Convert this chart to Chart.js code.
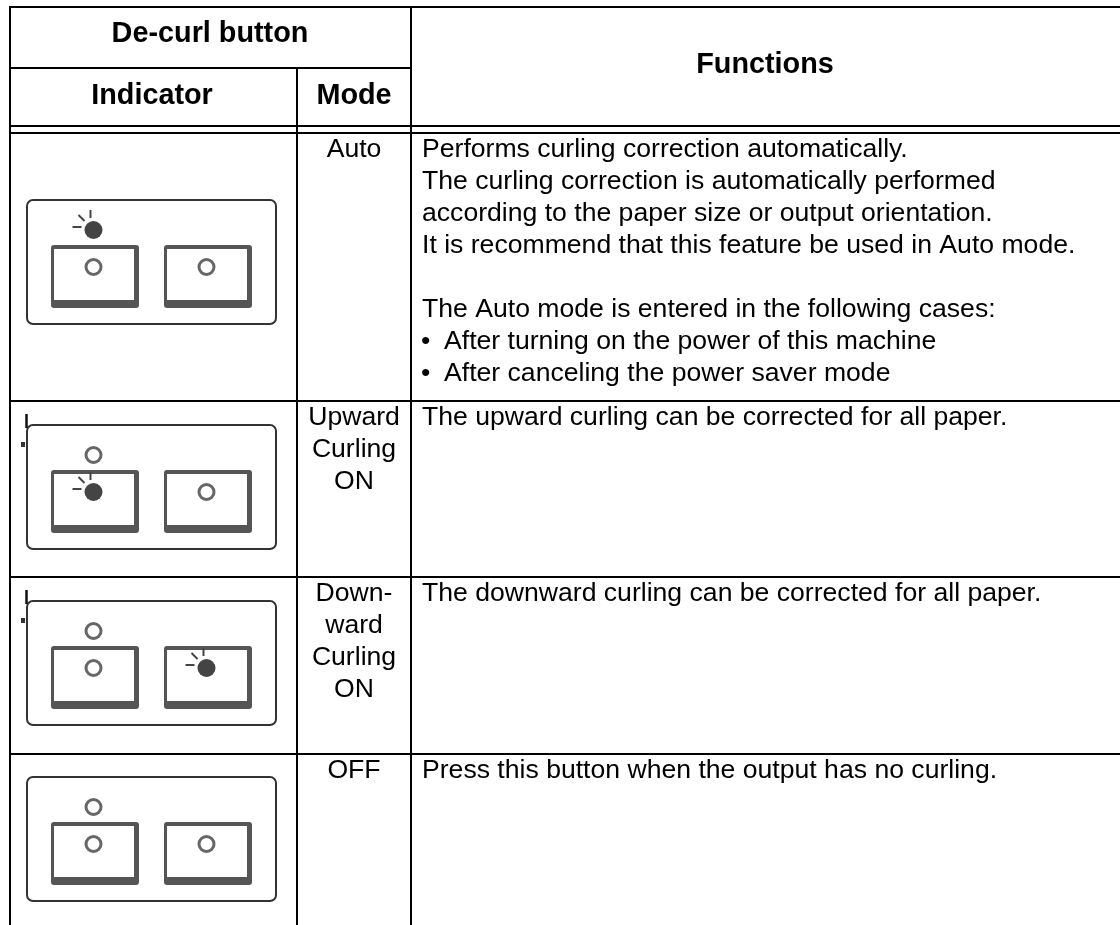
<!DOCTYPE html>
<html>
<head>
<meta charset="utf-8">
<title>De-curl button</title>
<script src="https://cdn.jsdelivr.net/npm/chart.js@4"></script>
<style>
  html, body { margin: 0; padding: 0; background: #fff; }
  canvas { display: block; }
</style>
</head>
<body>
<canvas id="tableChart" width="1120" height="925"></canvas>
<script>
const headGroup = "De-curl button";
const headIndicator = "Indicator";
const headMode = "Mode";
const headFunctions = "Functions";

const modeLabels = [
  ["Auto"],
  ["Upward", "Curling", "ON"],
  ["Down-", "ward", "Curling", "ON"],
  ["OFF"]
];

const functionLines = [
  ["Performs curling correction automatically.",
   "The curling correction is automatically performed",
   "according to the paper size or output orientation.",
   "It is recommend that this feature be used in Auto mode.",
   "",
   "The Auto mode is entered in the following cases:",
   "• After turning on the power of this machine",
   "• After canceling the power saver mode"],
  ["The upward curling can be corrected for all paper."],
  ["The downward curling can be corrected for all paper."],
  ["Press this button when the output has no curling."]
];

// one row per table row: status LED, left button LED, right button LED (1 = lit)
const ledStates = [
  [1, 0, 0],
  [0, 1, 0],
  [0, 0, 1],
  [0, 0, 0]
];

/* Layout of the page, in picture pixels (the chart scales run 0-1120, 0-925) */
const PANEL_TOPS = [200, 425, 601, 777];
const ROW_TOPS = [133, 401, 577, 754];
const LED_X = [93.5, 93.5, 206.5];
const LED_DY = [30, 67, 67];
const BUTTON_X = [51, 164];
const FONT = '"Liberation Sans", Arial, sans-serif';

function ledPoints(lit){
  const pts = [];
  ledStates.forEach((row, r) => row.forEach((state, s) => {
    if(state === lit) pts.push({ x: LED_X[s], y: PANEL_TOPS[r] + LED_DY[s] });
  }));
  return pts;
}

/* Table rules, header and cell text */
function drawTable(ctx){
  ctx.save();
  ctx.strokeStyle = '#000';
  ctx.lineWidth = 2;
  const rule = (x1, y1, x2, y2) => {
    ctx.beginPath(); ctx.moveTo(x1, y1); ctx.lineTo(x2, y2); ctx.stroke();
  };
  [7, 126, 133, 401, 577, 754].forEach(y => rule(9, y, 1120, y));
  rule(9, 68, 411, 68);
  rule(10, 6, 10, 925);
  rule(297, 68, 297, 925);
  rule(411, 6, 411, 925);

  ctx.fillStyle = '#000';
  ctx.textBaseline = 'alphabetic';
  ctx.textAlign = 'center';
  ctx.font = 'bold 28.8px ' + FONT;
  ctx.fillText(headGroup, 210, 42);
  ctx.fillText(headIndicator, 152, 104);
  ctx.fillText(headMode, 354, 104);
  ctx.fillText(headFunctions, 765, 73);

  ctx.font = '26.6px ' + FONT;
  modeLabels.forEach((lines, r) => {
    lines.forEach((t, i) => ctx.fillText(t, 354, ROW_TOPS[r] + 24 + i * 32));
  });

  ctx.textAlign = 'left';
  functionLines.forEach((lines, r) => {
    lines.forEach((t, i) => {
      const y = ROW_TOPS[r] + 24 + i * 32;
      if(t.startsWith('• ')){
        ctx.fillText('•', 421, y);
        ctx.fillText(t.slice(2), 444, y);
      } else {
        ctx.fillText(t, 422, y);
      }
    });
  });
  ctx.restore();
}

function roundBox(ctx, x, y, w, h, rad){
  ctx.beginPath();
  ctx.roundRect(x, y, w, h, rad);
}

/* Control panel outline, the two buttons and the rays of the lit LED */
function drawPanels(ctx){
  ctx.save();
  ctx.filter = 'blur(0.5px)';
  PANEL_TOPS.forEach((top, r) => {
    ctx.strokeStyle = '#333';
    ctx.lineWidth = 2;
    roundBox(ctx, 27, top, 249, 124, 6);
    ctx.stroke();

    BUTTON_X.forEach(bx => {
      ctx.fillStyle = '#555';
      roundBox(ctx, bx, top + 45, 88, 63, 3);
      ctx.fill();
      ctx.fillStyle = '#fff';
      ctx.fillRect(bx + 3, top + 49, 80, 51);
    });

    ledStates[r].forEach((state, s) => {
      if(!state) return;
      const cx = LED_X[s], cy = top + LED_DY[s];
      ctx.strokeStyle = '#444';
      ctx.lineWidth = 2;
      [[-21, -3, -12, -3], [-15, -15, -9, -9], [-3, -20, -3, -12]].forEach(d => {
        ctx.beginPath();
        ctx.moveTo(cx + d[0], cy + d[1]);
        ctx.lineTo(cx + d[2], cy + d[3]);
        ctx.stroke();
      });
    });

    // small scan marks on the left of the middle panels
    if(r === 1 || r === 2){
      ctx.strokeStyle = '#111';
      ctx.lineWidth = 2.5;
      ctx.beginPath(); ctx.moveTo(26.5, top - 11); ctx.lineTo(26.5, top + 3); ctx.stroke();
      ctx.fillStyle = '#333';
      ctx.fillRect(21, top + 17, 4, 5);
    }
  });
  ctx.restore();
}

const tablePlugin = {
  id: 'tablePlugin',
  beforeDatasetsDraw(chart){
    drawTable(chart.ctx);
    drawPanels(chart.ctx);
  }
};

new Chart(document.getElementById('tableChart'), {
  type: 'scatter',
  data: {
    datasets: [
      { label: 'LED off', data: ledPoints(0), pointRadius: 7.5, pointBorderWidth: 3,
        pointBackgroundColor: '#fff', pointBorderColor: '#666' },
      { label: 'LED on', data: ledPoints(1), pointRadius: 9, pointBorderWidth: 0,
        pointBackgroundColor: '#444', pointBorderColor: '#444' }
    ]
  },
  options: {
    responsive: false,
    animation: false,
    events: [],
    layout: { padding: 0, autoPadding: false },
    plugins: { legend: { display: false }, tooltip: { enabled: false }, title: { display: false } },
    scales: {
      x: { type: 'linear', display: false, min: 0, max: 1120 },
      y: { type: 'linear', display: false, min: 0, max: 925, reverse: true }
    }
  },
  plugins: [tablePlugin]
});
</script>
</body>
</html>
